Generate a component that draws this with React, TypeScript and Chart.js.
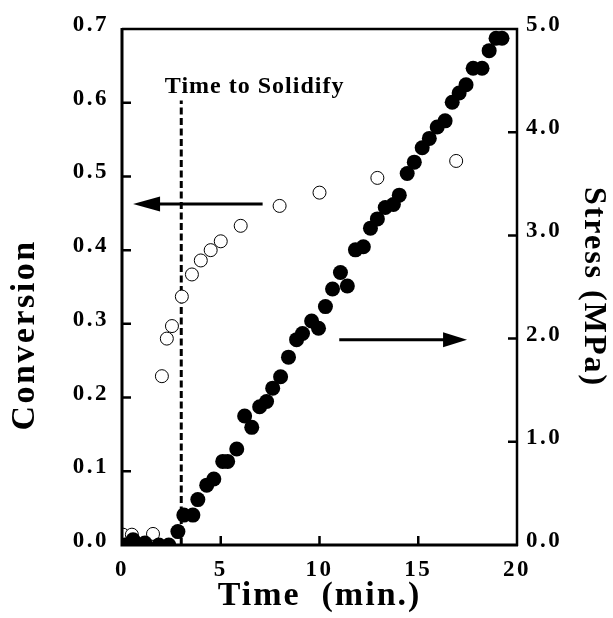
import React, { useEffect, useRef } from 'react';
import { Chart, registerables } from 'chart.js';

Chart.register(...registerables);

// ---- data ----
const timeConversion = [0.05, 0.5, 0.8, 1.57, 2.02, 2.27, 2.53, 3.03, 3.54, 3.99, 4.49, 5.0, 6.01, 7.98, 10.0, 12.93, 16.92];
const conversion = [0.014, 0.014, 0.0, 0.015, 0.229, 0.28, 0.297, 0.337, 0.367, 0.386, 0.4, 0.412, 0.433, 0.46, 0.478, 0.498, 0.521];

const timeStress = [
  0.15, 0.56, 1.16, 1.87, 2.37, 2.83, 3.13, 3.59, 3.84, 4.29,
  4.65, 5.1, 5.35, 5.81, 6.21, 6.57, 6.97, 7.32, 7.63, 8.03,
  8.43, 8.84, 9.14, 9.6, 9.95, 10.3, 10.66, 11.06, 11.41, 11.82,
  12.22, 12.58, 12.93, 13.33, 13.74, 14.04, 14.44, 14.8, 15.2, 15.56,
  15.96, 16.36, 16.72, 17.07, 17.42, 17.78, 18.23, 18.59, 18.94, 19.24,
];
const stress = [
  0.0, 0.05, 0.02, 0.0, 0.0, 0.13, 0.29, 0.29, 0.44, 0.58,
  0.64, 0.81, 0.81, 0.93, 1.25, 1.14, 1.34, 1.39, 1.52, 1.63,
  1.82, 1.99, 2.05, 2.17, 2.1, 2.31, 2.48, 2.64, 2.51, 2.86,
  2.89, 3.07, 3.16, 3.27, 3.3, 3.39, 3.6, 3.71, 3.85, 3.94,
  4.05, 4.11, 4.29, 4.38, 4.46, 4.62, 4.62, 4.79, 4.91, 4.91,
];

const timeTicks = [0, 5, 10, 15, 20];
const conversionTicks = [0, 0.1, 0.2, 0.3, 0.4, 0.5, 0.6, 0.7];
const stressTicks = [0, 1, 2, 3, 4, 5];

// annotation (data units)
const solidifyTime = 3.0;
const solidifyTop = 0.603;
const solidifyLabel = 'Time to Solidify';
const solidifyLabelX = 2.17;
const solidifyLabelY = 0.613;
const conversionArrow = { from: 7.12, to: 0.56, y: 0.4626 };
const stressArrow = { from: 11.0, to: 17.47, y: 1.99 };

const leftTitle = 'Conversion';

const FONT = '"Liberation Serif", "Times New Roman", serif';

const framePlugin = {
  id: 'framePlugin',
  beforeDraw(chart: any) {
    const ctx = chart.ctx;
    Object.values(chart.scales).forEach((s: any) => {
      if (s.__wrapped) return;
      s.__wrapped = true;
      const dl = s.drawLabels;
      const dt = s.drawTitle;
      s.drawLabels = function (...a: any[]) {
        ctx.save();
        (ctx as any).letterSpacing = '2.5px';
        dl.apply(this, a);
        ctx.restore();
      };
      s.drawTitle = function (...a: any[]) {
        ctx.save();
        (ctx as any).letterSpacing = '2px';
        dt.apply(this, a);
        ctx.restore();
      };
    });
  },
  afterDraw(chart: any) {
    const ctx = chart.ctx as CanvasRenderingContext2D;
    const { left, right, top, bottom } = chart.chartArea;
    const xs = chart.scales.x;
    const yc = chart.scales.yConv;
    const ys = chart.scales.yStress;
    ctx.save();
    ctx.strokeStyle = '#000';
    ctx.fillStyle = '#000';
    ctx.lineCap = 'butt';
    // frame
    ctx.lineWidth = 3;
    ctx.beginPath();
    ctx.moveTo(left, top - 1);
    ctx.lineTo(left, bottom);
    ctx.lineTo(right + 1, bottom);
    ctx.stroke();
    ctx.lineWidth = 2.5;
    ctx.beginPath();
    ctx.moveTo(left, top);
    ctx.lineTo(right, top);
    ctx.lineTo(right, bottom + 1);
    ctx.stroke();
    // inward ticks
    const tl = 9;
    ctx.lineWidth = 2.5;
    ctx.beginPath();
    conversionTicks.slice(1, -1).forEach((v) => {
      const p = yc.getPixelForValue(v);
      ctx.moveTo(left, p);
      ctx.lineTo(left + tl, p);
    });
    stressTicks.slice(1, -1).forEach((v) => {
      const p = ys.getPixelForValue(v);
      ctx.moveTo(right, p);
      ctx.lineTo(right - tl, p);
    });
    timeTicks.slice(1, -1).forEach((v) => {
      const p = xs.getPixelForValue(v);
      ctx.moveTo(p, bottom);
      ctx.lineTo(p, bottom - tl);
    });
    ctx.stroke();

    // arrows
    const drawArrow = (x0: number, x1: number, y: number, headLen: number, headHalf: number) => {
      const dir = Math.sign(x1 - x0);
      ctx.lineWidth = 3;
      ctx.beginPath();
      ctx.moveTo(x0, y);
      ctx.lineTo(x1 - dir * headLen * 0.8, y);
      ctx.stroke();
      ctx.beginPath();
      ctx.moveTo(x1, y);
      ctx.lineTo(x1 - dir * headLen, y - headHalf);
      ctx.lineTo(x1 - dir * headLen, y + headHalf);
      ctx.closePath();
      ctx.fill();
    };
    drawArrow(xs.getPixelForValue(conversionArrow.from), xs.getPixelForValue(conversionArrow.to), yc.getPixelForValue(conversionArrow.y), 27, 7.5);
    drawArrow(xs.getPixelForValue(stressArrow.from), xs.getPixelForValue(stressArrow.to), ys.getPixelForValue(stressArrow.y), 24, 7.5);

    // label
    (ctx as any).letterSpacing = '1px';
    ctx.font = `bold 24px ${FONT}`;
    ctx.textAlign = 'left';
    ctx.textBaseline = 'alphabetic';
    ctx.fillText(solidifyLabel, xs.getPixelForValue(solidifyLabelX), yc.getPixelForValue(solidifyLabelY));

    // left axis title (sits below the axis centre in the original)
    (ctx as any).letterSpacing = '2.5px';
    ctx.font = `bold 34px ${FONT}`;
    ctx.textAlign = 'center';
    ctx.textBaseline = 'middle';
    ctx.translate(25, (top + bottom) / 2 + 48);
    ctx.rotate(-Math.PI / 2);
    ctx.fillText(leftTitle, 0, 0);
    ctx.restore();
  },
};

export default function App() {
  const ref = useRef<HTMLCanvasElement | null>(null);
  useEffect(() => {
    if (!ref.current) return;
    const tickFont = { family: FONT, size: 23, weight: 'bold' as const };
    const chart = new Chart(ref.current, {
      type: 'scatter',
      data: {
        datasets: [
          {
            label: 'Stress',
            data: timeStress.map((t, i) => ({ x: t, y: stress[i] })),
            yAxisID: 'yStress',
            pointRadius: 7.5,
            pointBackgroundColor: '#000',
            pointBorderColor: '#000',
            pointBorderWidth: 0,
            order: 0,
          },
          {
            label: 'Conversion',
            data: timeConversion.map((t, i) => ({ x: t, y: conversion[i] })),
            yAxisID: 'yConv',
            pointRadius: 6.5,
            pointBackgroundColor: '#fff',
            pointBorderColor: '#000',
            pointBorderWidth: 1,
            order: 1,
          },
          {
            label: 'Solidify',
            data: [
              { x: solidifyTime, y: 0 },
              { x: solidifyTime, y: solidifyTop },
            ],
            yAxisID: 'yConv',
            showLine: true,
            borderColor: '#000',
            borderWidth: 3,
            borderDash: [7, 3.5],
            pointRadius: 0,
            order: 2,
          } as any,
        ],
      },
      options: {
        animation: false,
        responsive: false,
        layout: { padding: { top: 29, left: 0, right: 0, bottom: 0 } },
        plugins: { legend: { display: false }, tooltip: { enabled: false } },
        scales: {
          x: {
            type: 'linear',
            position: 'bottom',
            min: 0,
            max: 20,
            grid: { display: false },
            border: { display: false },
            afterBuildTicks: (s: any) => {
              s.ticks = timeTicks.map((v) => ({ value: v }));
            },
            afterFit: (s: any) => {
              s.height = 73;
            },
            ticks: {
              font: tickFont,
              color: '#000',
              padding: 3,
              maxRotation: 0,
              callback: (v: any) => String(v),
            },
            title: {
              display: true,
              text: 'Time  (min.)',
              font: { family: FONT, size: 34, weight: 'bold' as const },
              color: '#000',
              padding: { top: 0, bottom: 1 },
            },
          },
          yConv: {
            type: 'linear',
            position: 'left',
            min: 0,
            max: 0.7,
            grid: { display: false },
            border: { display: false },
            afterBuildTicks: (s: any) => {
              s.ticks = conversionTicks.map((v) => ({ value: v }));
            },
            afterFit: (s: any) => {
              s.width = 122;
            },
            ticks: {
              font: tickFont,
              color: '#000',
              padding: 5,
              labelOffset: -4,
              callback: (v: any) => Number(v).toFixed(1),
            },
            title: { display: false },
          },
          yStress: {
            type: 'linear',
            position: 'right',
            min: 0,
            max: 5,
            grid: { display: false },
            border: { display: false },
            afterBuildTicks: (s: any) => {
              s.ticks = stressTicks.map((v) => ({ value: v }));
            },
            afterFit: (s: any) => {
              s.width = 96;
            },
            ticks: {
              font: tickFont,
              color: '#000',
              padding: 1,
              labelOffset: -4,
              callback: (v: any) => Number(v).toFixed(1),
            },
            title: {
              display: true,
              text: 'Stress (MPa)',
              font: { family: FONT, size: 32, weight: 'bold' as const },
              color: '#000',
              padding: { top: 1, bottom: 0 },
            },
          },
        },
      },
      plugins: [framePlugin],
    } as any);
    return () => chart.destroy();
  }, []);
  return (
    <div style={{ position: 'fixed', left: 0, top: 0, width: 613, height: 618, background: '#fff' }}>
      <canvas ref={ref} width={613} height={618} style={{ display: 'block' }} />
    </div>
  );
}
